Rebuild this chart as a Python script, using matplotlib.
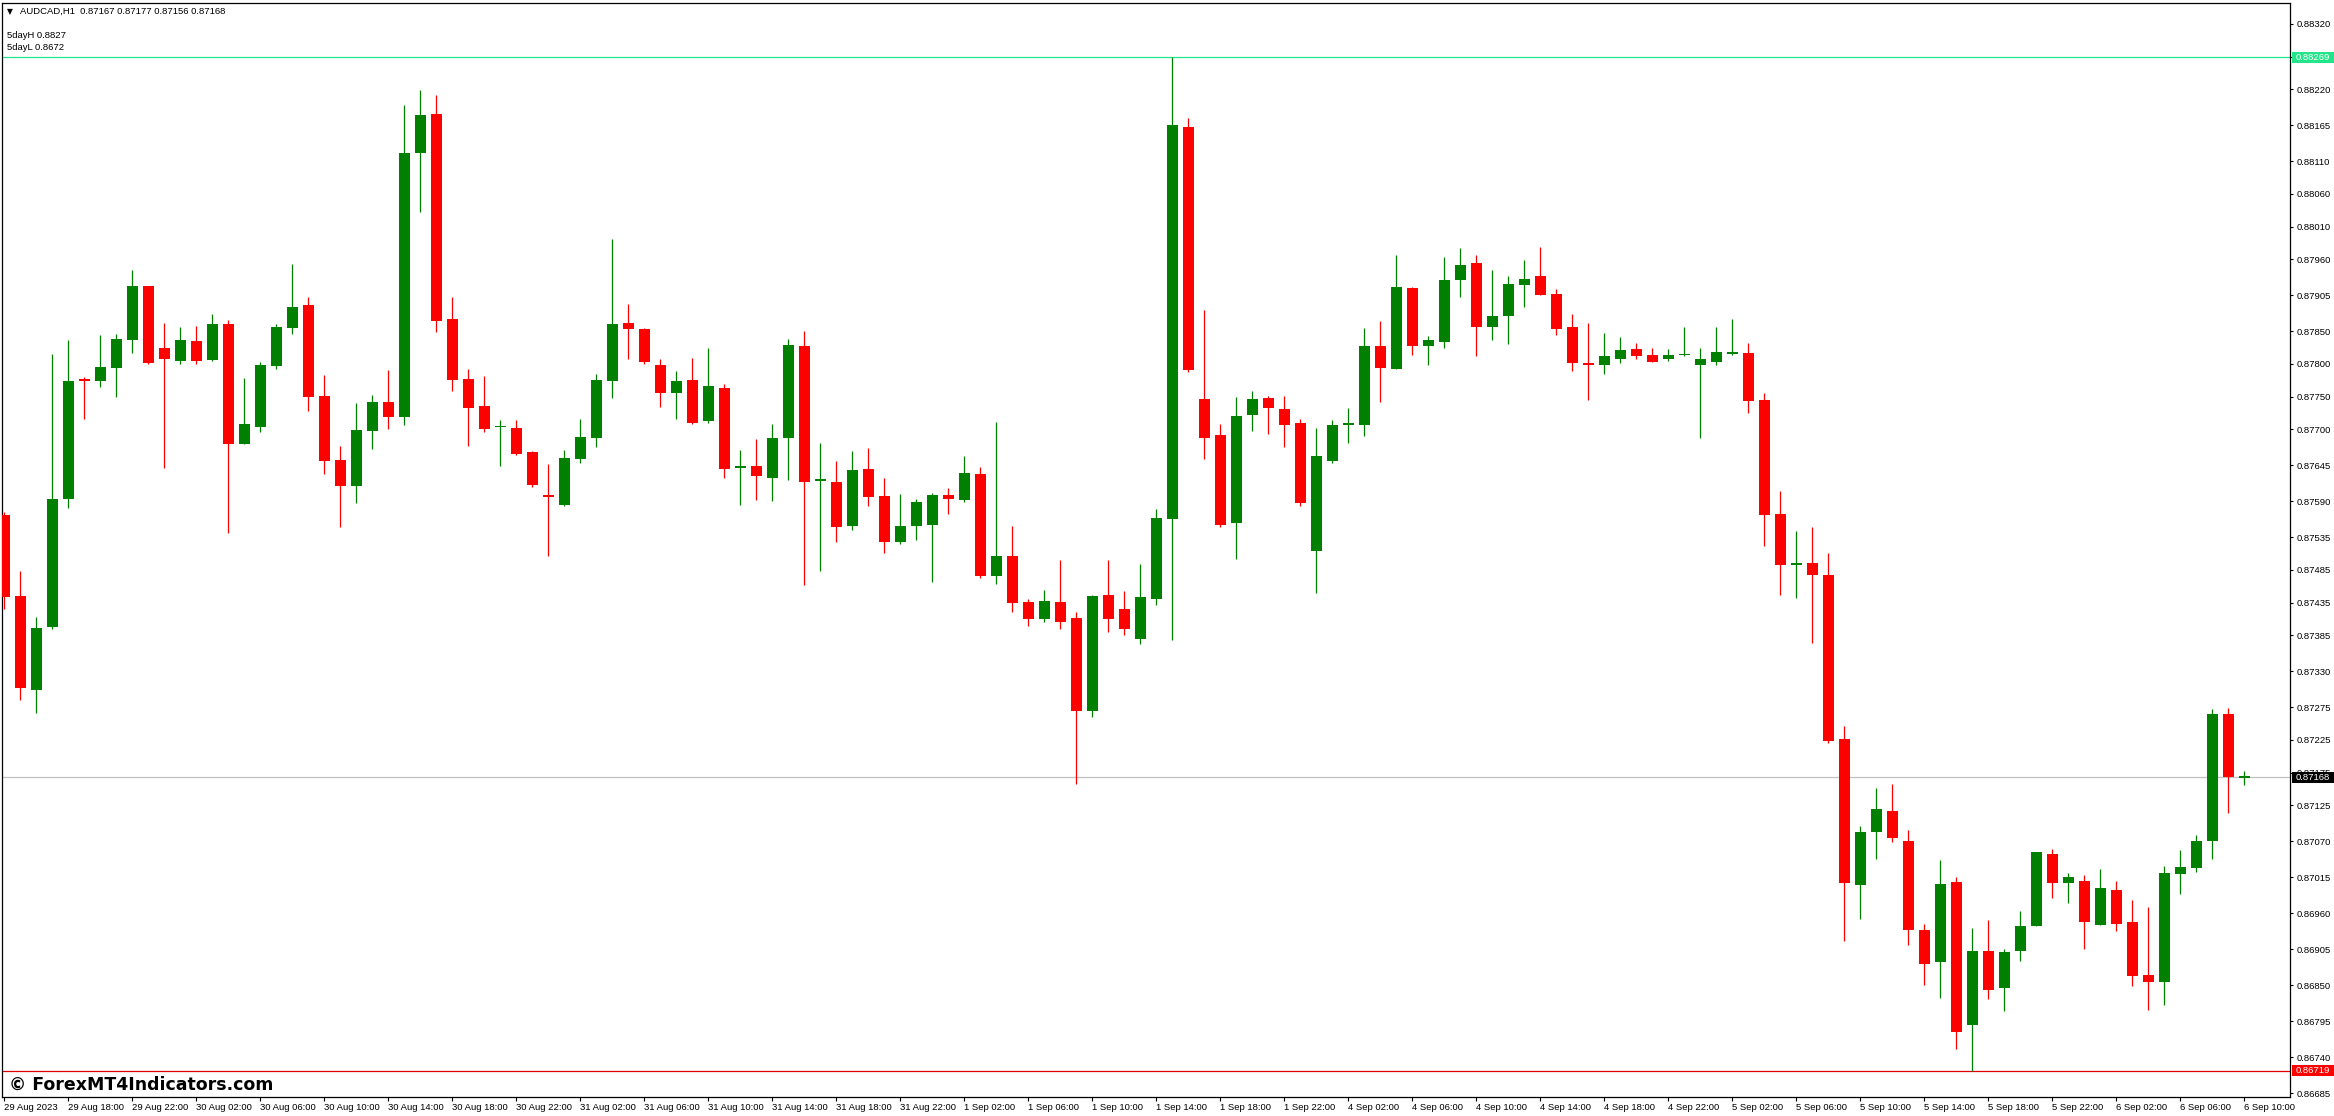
import matplotlib

matplotlib.use("Agg")
import matplotlib.pyplot as plt
import matplotlib.transforms as mtransforms
from matplotlib.patches import Rectangle
import numpy as np

# AUDCAD H1 candles, 29 Aug 2023 14:00 .. 6 Sep 2023 10:00
opens = [
    0.87569, 0.87445, 0.87302, 0.87397, 0.87594, 0.87777, 0.87774, 0.87794, 0.87837, 0.87919,
    0.87824, 0.87805, 0.87835, 0.87806, 0.87861, 0.87678, 0.87704, 0.87797, 0.87855, 0.87890,
    0.87751, 0.87653, 0.87613, 0.87698, 0.87742, 0.87719, 0.88122, 0.88182, 0.87868, 0.87777,
    0.87736, 0.87703, 0.87702, 0.87665, 0.87598, 0.87585, 0.87655, 0.87687, 0.87774, 0.87863,
    0.87853, 0.87798, 0.87755, 0.87775, 0.87713, 0.87763, 0.87641, 0.87644, 0.87626, 0.87687,
    0.87827, 0.87621, 0.87620, 0.87552, 0.87639, 0.87598, 0.87527, 0.87552, 0.87554, 0.87599,
    0.87592, 0.87632, 0.87476, 0.87506, 0.87436, 0.87410, 0.87436, 0.87412, 0.87269, 0.87446,
    0.87425, 0.87380, 0.87441, 0.87563, 0.88162, 0.87746, 0.87691, 0.87557, 0.87722, 0.87748,
    0.87731, 0.87709, 0.87514, 0.87652, 0.87707, 0.87707, 0.87828, 0.87792, 0.87916, 0.87828,
    0.87834, 0.87928, 0.87954, 0.87857, 0.87873, 0.87920, 0.87934, 0.87907, 0.87856, 0.87801,
    0.87798, 0.87807, 0.87823, 0.87813, 0.87807, 0.87813, 0.87798, 0.87803, 0.87815, 0.87816,
    0.87745, 0.87571, 0.87492, 0.87495, 0.87478, 0.87227, 0.87003, 0.87084, 0.87117, 0.87071,
    0.86935, 0.86885, 0.87008, 0.86789, 0.86902, 0.86845, 0.86902, 0.86940, 0.87051, 0.87006,
    0.87010, 0.86942, 0.86996, 0.86947, 0.86865, 0.86855, 0.87020, 0.87029, 0.87070, 0.87264,
    0.87167,
]
highs = [
    0.87574, 0.87483, 0.87413, 0.87815, 0.87837, 0.87780, 0.87844, 0.87846, 0.87944, 0.87919,
    0.87863, 0.87857, 0.87858, 0.87876, 0.87867, 0.87778, 0.87803, 0.87861, 0.87953, 0.87902,
    0.87783, 0.87674, 0.87740, 0.87752, 0.87791, 0.88196, 0.88219, 0.88211, 0.87902, 0.87792,
    0.87781, 0.87714, 0.87714, 0.87667, 0.87647, 0.87668, 0.87716, 0.87785, 0.87991, 0.87892,
    0.87855, 0.87807, 0.87789, 0.87809, 0.87824, 0.87769, 0.87668, 0.87685, 0.87708, 0.87838,
    0.87850, 0.87679, 0.87651, 0.87667, 0.87672, 0.87626, 0.87601, 0.87594, 0.87602, 0.87610,
    0.87659, 0.87642, 0.87711, 0.87552, 0.87440, 0.87454, 0.87500, 0.87420, 0.87446, 0.87500,
    0.87453, 0.87494, 0.87578, 0.88269, 0.88176, 0.87882, 0.87708, 0.87749, 0.87758, 0.87751,
    0.87751, 0.87716, 0.87702, 0.87715, 0.87733, 0.87855, 0.87865, 0.87966, 0.87918, 0.87842,
    0.87963, 0.87977, 0.87966, 0.87943, 0.87934, 0.87959, 0.87979, 0.87914, 0.87877, 0.87862,
    0.87847, 0.87841, 0.87832, 0.87824, 0.87823, 0.87856, 0.87825, 0.87857, 0.87868, 0.87832,
    0.87755, 0.87605, 0.87545, 0.87550, 0.87511, 0.87247, 0.87094, 0.87152, 0.87157, 0.87088,
    0.86944, 0.87042, 0.87016, 0.86937, 0.86949, 0.86906, 0.86964, 0.87054, 0.87059, 0.87022,
    0.87019, 0.87027, 0.87010, 0.86981, 0.86969, 0.87033, 0.87056, 0.87079, 0.87273, 0.87274,
    0.87177,
]
lows = [
    0.87425, 0.87286, 0.87266, 0.87395, 0.87580, 0.87716, 0.87765, 0.87750, 0.87817, 0.87800,
    0.87641, 0.87800, 0.87800, 0.87805, 0.87541, 0.87678, 0.87696, 0.87793, 0.87846, 0.87728,
    0.87632, 0.87551, 0.87588, 0.87670, 0.87700, 0.87707, 0.88032, 0.87849, 0.87759, 0.87675,
    0.87696, 0.87644, 0.87661, 0.87612, 0.87507, 0.87583, 0.87648, 0.87673, 0.87748, 0.87807,
    0.87800, 0.87734, 0.87716, 0.87708, 0.87710, 0.87626, 0.87585, 0.87592, 0.87590, 0.87622,
    0.87462, 0.87484, 0.87528, 0.87546, 0.87583, 0.87511, 0.87525, 0.87531, 0.87467, 0.87571,
    0.87589, 0.87473, 0.87463, 0.87420, 0.87400, 0.87405, 0.87395, 0.87157, 0.87260, 0.87390,
    0.87385, 0.87372, 0.87432, 0.87378, 0.87788, 0.87654, 0.87550, 0.87502, 0.87697, 0.87693,
    0.87673, 0.87583, 0.87450, 0.87649, 0.87679, 0.87690, 0.87742, 0.87792, 0.87813, 0.87798,
    0.87824, 0.87903, 0.87812, 0.87837, 0.87830, 0.87887, 0.87905, 0.87845, 0.87789, 0.87745,
    0.87785, 0.87801, 0.87808, 0.87803, 0.87805, 0.87812, 0.87687, 0.87798, 0.87813, 0.87725,
    0.87522, 0.87446, 0.87442, 0.87374, 0.87221, 0.86917, 0.86951, 0.87043, 0.87069, 0.86912,
    0.86851, 0.86830, 0.86752, 0.86719, 0.86829, 0.86810, 0.86887, 0.86940, 0.86983, 0.86975,
    0.86905, 0.86942, 0.86933, 0.86849, 0.86812, 0.86819, 0.86989, 0.87023, 0.87043, 0.87113,
    0.87156,
]
closes = [
    0.87443, 0.87304, 0.87396, 0.87593, 0.87774, 0.87774, 0.87795, 0.87838, 0.87919, 0.87802,
    0.87807, 0.87837, 0.87805, 0.87861, 0.87677, 0.87708, 0.87798, 0.87857, 0.87887, 0.87750,
    0.87652, 0.87613, 0.87699, 0.87742, 0.87719, 0.88122, 0.88180, 0.87866, 0.87776, 0.87733,
    0.87701, 0.87704, 0.87662, 0.87615, 0.87597, 0.87656, 0.87688, 0.87775, 0.87861, 0.87853,
    0.87803, 0.87756, 0.87774, 0.87710, 0.87766, 0.87639, 0.87642, 0.87629, 0.87687, 0.87829,
    0.87620, 0.87622, 0.87551, 0.87638, 0.87597, 0.87527, 0.87552, 0.87589, 0.87599, 0.87593,
    0.87633, 0.87476, 0.87506, 0.87435, 0.87410, 0.87438, 0.87405, 0.87269, 0.87445, 0.87410,
    0.87395, 0.87444, 0.87564, 0.88165, 0.87791, 0.87687, 0.87554, 0.87720, 0.87746, 0.87733,
    0.87707, 0.87587, 0.87659, 0.87707, 0.87708, 0.87827, 0.87794, 0.87917, 0.87828, 0.87836,
    0.87928, 0.87952, 0.87857, 0.87874, 0.87922, 0.87930, 0.87906, 0.87854, 0.87801, 0.87799,
    0.87812, 0.87821, 0.87812, 0.87803, 0.87813, 0.87815, 0.87807, 0.87818, 0.87818, 0.87743,
    0.87569, 0.87493, 0.87496, 0.87477, 0.87223, 0.87006, 0.87085, 0.87120, 0.87075, 0.86934,
    0.86882, 0.87005, 0.86778, 0.86903, 0.86842, 0.86900, 0.86941, 0.87053, 0.87006, 0.87015,
    0.86946, 0.86998, 0.86943, 0.86864, 0.86855, 0.87021, 0.87030, 0.87071, 0.87264, 0.87168,
    0.87168,
]

time_labels = [
    "29 Aug 2023", "29 Aug 18:00", "29 Aug 22:00",
    "30 Aug 02:00", "30 Aug 06:00", "30 Aug 10:00", "30 Aug 14:00", "30 Aug 18:00", "30 Aug 22:00",
    "31 Aug 02:00", "31 Aug 06:00", "31 Aug 10:00", "31 Aug 14:00", "31 Aug 18:00", "31 Aug 22:00",
    "1 Sep 02:00", "1 Sep 06:00", "1 Sep 10:00", "1 Sep 14:00", "1 Sep 18:00", "1 Sep 22:00",
    "4 Sep 02:00", "4 Sep 06:00", "4 Sep 10:00", "4 Sep 14:00", "4 Sep 18:00", "4 Sep 22:00",
    "5 Sep 02:00", "5 Sep 06:00", "5 Sep 10:00", "5 Sep 14:00", "5 Sep 18:00", "5 Sep 22:00",
    "6 Sep 02:00", "6 Sep 06:00", "6 Sep 10:00",
]
bars_per_label = 4

price_ticks = [
    0.88320, 0.88270, 0.88220, 0.88165, 0.88110, 0.88060, 0.88010, 0.87960, 0.87905, 0.87850,
    0.87800, 0.87750, 0.87700, 0.87645, 0.87590, 0.87535, 0.87485, 0.87435, 0.87385, 0.87330,
    0.87275, 0.87225, 0.87175, 0.87125, 0.87070, 0.87015, 0.86960, 0.86905, 0.86850, 0.86795,
    0.86740, 0.86685,
]

symbol = "AUDCAD,H1"
five_day_high = 0.88269
five_day_low = 0.86719
bid = 0.87168

W, H = 2334, 1116
BULL = "#008000"
BEAR = "#FF0000"
HIGH_COL = "#22E58A"
FONT = ["Liberation Sans", "DejaVu Sans"]
FS = 6.8

plt.rcParams["font.family"] = FONT

fig = plt.figure(figsize=(W / 100, H / 100), dpi=100)
fig.patch.set_facecolor("white")

# plot frame in pixels: x 2..2290, y 3..1097 (from top)
left_px, right_px, top_px, bot_px = 2, 2290, 3, 1097
ax = fig.add_axes([left_px / W, (H - bot_px) / H, (right_px - left_px) / W, (bot_px - top_px) / H])

o = np.array(opens)
h = np.array(highs)
l = np.array(lows)
c = np.array(closes)
idx = np.arange(len(o))
up = c >= o
colors = np.where(up, BULL, BEAR)

px_per_bar = 16.0
ax.set_xlim((left_px - 4) / px_per_bar, (right_px - 4) / px_per_bar)
ymin, ymax = 0.86679, 0.88352
ax.set_ylim(ymin, ymax)
price_per_px = (ymax - ymin) / (bot_px - top_px)

# reference lines
ax.axhline(five_day_high, color=HIGH_COL, lw=0.9, zorder=1)
ax.axhline(bid, color="#C0C0C0", lw=0.9, zorder=1)
ax.axhline(five_day_low, color="#E00000", lw=0.9, zorder=1)

# candles
ax.vlines(idx, l, h, colors=colors, lw=0.9, zorder=2)
body_lo = np.minimum(o, c)
body_h = np.maximum(np.abs(c - o), 1.6 * price_per_px)
ax.bar(idx, body_h, bottom=body_lo, width=11 / px_per_bar, color=colors,
       edgecolor="none", linewidth=0, zorder=3, antialiased=False)

# axes cosmetics
for s in ax.spines.values():
    s.set_color("black")
    s.set_linewidth(0.9)
ax.yaxis.tick_right()
ax.set_yticks(price_ticks)
ax.set_yticklabels([f"{v:.5f}" for v in price_ticks])
ax.tick_params(axis="y", direction="out", length=2.5, width=0.8, pad=2.0,
               labelsize=FS, colors="black")

xt = [i * bars_per_label for i in range(len(time_labels))]
ax.set_xticks(xt)
ax.set_xticklabels(time_labels, ha="left")
ax.tick_params(axis="x", direction="out", length=3, width=0.8, pad=1.5,
               labelsize=FS, colors="black")

# price tags on the right scale
tag_tr = mtransforms.blended_transform_factory(fig.transFigure, ax.transData)
tag_h = 11 * price_per_px
for value, face in [(five_day_high, HIGH_COL), (bid, "black"), (five_day_low, "#FF0000")]:
    fig.patches.append(Rectangle(((right_px + 2) / W, value - tag_h / 2), (W - right_px - 2) / W, tag_h,
                                 transform=tag_tr, facecolor=face, edgecolor="none", zorder=5))
    fig.text((right_px + 6) / W, value, f"{value:.5f}", transform=tag_tr, color="white",
             fontsize=FS, va="center", ha="left", zorder=6)

# header texts
fig.text(7 / W, 1 - 11.5 / H, "\u25bc", fontsize=5.5, va="center", ha="left", family=["DejaVu Sans"])
fig.text(20 / W, 1 - 11.5 / H,
         f"{symbol}  {opens[-1]:.5f} {highs[-1]:.5f} {lows[-1]:.5f} {closes[-1]:.5f}",
         fontsize=FS, va="center", ha="left")
fig.text(7 / W, 1 - 35 / H, f"5dayH {five_day_high:.4f}", fontsize=FS, va="center", ha="left")
fig.text(7 / W, 1 - 48 / H, f"5dayL {five_day_low:.4f}", fontsize=FS, va="center", ha="left")

# watermark
fig.text(9 / W, 1 - 1085 / H, "\u00a9 ForexMT4Indicators.com", fontsize=12.5, fontweight="bold",
         va="center", ha="left", family=["DejaVu Sans"], color="black")

fig.savefig("out.png", dpi=100, facecolor="white")
plt.close(fig)
